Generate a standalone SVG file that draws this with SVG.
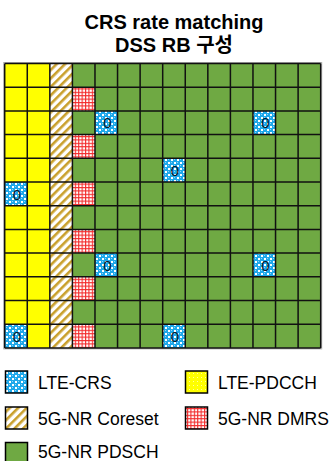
<svg xmlns="http://www.w3.org/2000/svg" width="331" height="461" viewBox="0 0 331 461">
<defs>
<style>
.title{font-family:"Liberation Sans","Noto Sans CJK KR",sans-serif;font-weight:bold;font-size:20px;fill:#000;text-anchor:middle}
.lg{font-family:"Liberation Sans","Noto Sans CJK KR",sans-serif;font-size:17.5px;fill:#000}
.zero{font-family:"Liberation Sans",sans-serif;font-size:15px;fill:#06182c;text-anchor:middle}
.yel{fill:#ffff00}
.grn{fill:#6fa943}
.crs{fill:url(#pCrs)}
.dmrs{fill:url(#pDmrs)}
.core{fill:url(#pCore)}
.sw{stroke:#000;stroke-width:1.5}
</style>
<pattern id="pCrs" width="6" height="6" patternUnits="userSpaceOnUse">
<rect width="6" height="6" fill="#1ea8ea"/>
<rect x="0" y="0" width="2" height="2" fill="#ffffff"/>
<rect x="3" y="3" width="2" height="2" fill="#ffffff"/>
<rect x="3" y="0" width="1" height="1" fill="#8fd6f7"/>
<rect x="0" y="3" width="1" height="1" fill="#8fd6f7"/>
</pattern>
<pattern id="pDmrs" width="3.4" height="3.4" patternUnits="userSpaceOnUse">
<rect width="3.4" height="3.4" fill="#ffffff"/>
<rect x="0" y="0" width="3.4" height="1.1" fill="#f22a2a"/>
<rect x="0" y="0" width="1.1" height="3.4" fill="#f22a2a"/>
</pattern>
<pattern id="pCore" width="6" height="6" patternUnits="userSpaceOnUse" patternTransform="rotate(45)">
<rect width="6" height="6" fill="#ffffff"/>
<rect x="0" y="0" width="2.6" height="6" fill="#c9a02c"/>
</pattern>
<pattern id="pYel" width="4" height="4" patternUnits="userSpaceOnUse">
<rect width="4" height="4" fill="#ffff00"/>
<rect x="1" y="1" width="1" height="1" fill="#ffffa0"/>
</pattern>
</defs>
<rect width="331" height="461" fill="#ffffff"/>
<g id="title">
<text class="title" x="174" y="28.5">CRS rate matching</text>
<text class="title" x="174" y="52">DSS RB 구성</text>
</g>
<g id="grid">
<rect x="3.7" y="62.5" width="318" height="286.4" fill="none" stroke="#b0b0b0" stroke-width="1"/>
<rect class="yel" x="4.7" y="63.5" width="45.14" height="284.4"/>
<rect class="core" x="49.84" y="63.5" width="22.57" height="284.4"/>
<rect class="grn" x="72.41" y="63.5" width="248.27" height="284.4"/>
<g id="crs-cells">
<rect class="crs" x="4.7" y="182" width="22.57" height="23.7"/>
<rect class="crs" x="4.7" y="324.2" width="22.57" height="23.7"/>
<rect class="crs" x="94.98" y="110.9" width="22.57" height="23.7"/>
<rect class="crs" x="94.98" y="253.1" width="22.57" height="23.7"/>
<rect class="crs" x="162.69" y="158.3" width="22.57" height="23.7"/>
<rect class="crs" x="162.69" y="324.2" width="22.57" height="23.7"/>
<rect class="crs" x="252.97" y="110.9" width="22.57" height="23.7"/>
<rect class="crs" x="252.97" y="253.1" width="22.57" height="23.7"/>
<text class="zero" x="17" y="199.5">0</text>
<text class="zero" x="17" y="341.7">0</text>
<text class="zero" x="107.3" y="128.4">0</text>
<text class="zero" x="107.3" y="270.6">0</text>
<text class="zero" x="175" y="175.8">0</text>
<text class="zero" x="175" y="341.7">0</text>
<text class="zero" x="265.3" y="128.4">0</text>
<text class="zero" x="265.3" y="270.6">0</text>
</g>
<g id="dmrs-cells">
<rect class="dmrs" x="72.41" y="87.2" width="22.57" height="23.7"/>
<rect class="dmrs" x="72.41" y="134.6" width="22.57" height="23.7"/>
<rect class="dmrs" x="72.41" y="182" width="22.57" height="23.7"/>
<rect class="dmrs" x="72.41" y="229.4" width="22.57" height="23.7"/>
<rect class="dmrs" x="72.41" y="276.8" width="22.57" height="23.7"/>
<rect class="dmrs" x="72.41" y="324.2" width="22.57" height="23.7"/>
</g>
<path id="grid-lines" fill="none" stroke="#111" stroke-width="1.5" d="M4.7 63.5V347.9M27.27 63.5V347.9M49.84 63.5V347.9M72.41 63.5V347.9M94.98 63.5V347.9M117.55 63.5V347.9M140.12 63.5V347.9M162.69 63.5V347.9M185.26 63.5V347.9M207.83 63.5V347.9M230.4 63.5V347.9M252.97 63.5V347.9M275.54 63.5V347.9M298.11 63.5V347.9M320.68 63.5V347.9M4.7 63.5H320.68M4.7 87.2H320.68M4.7 110.9H320.68M4.7 134.6H320.68M4.7 158.3H320.68M4.7 182H320.68M4.7 205.7H320.68M4.7 229.4H320.68M4.7 253.1H320.68M4.7 276.8H320.68M4.7 300.5H320.68M4.7 324.2H320.68M4.7 347.9H320.68"/>
</g>
<g id="legend">
<g id="lg-crs"><rect class="crs sw" x="5.5" y="371" width="22" height="22"/><text class="lg" x="38" y="388.5">LTE-CRS</text></g>
<g id="lg-pdcch"><rect class="sw" fill="url(#pYel)" x="185.5" y="371" width="22" height="22"/><text class="lg" x="218" y="388.5">LTE-PDCCH</text></g>
<g id="lg-core"><rect class="core sw" x="5.5" y="407" width="22" height="22"/><text class="lg" x="38" y="424.5">5G-NR Coreset</text></g>
<g id="lg-dmrs"><rect class="dmrs sw" x="185.5" y="407" width="22" height="22"/><text class="lg" x="218" y="424.5">5G-NR DMRS</text></g>
<g id="lg-pdsch"><rect class="grn sw" x="5.5" y="442.5" width="22" height="22"/><text class="lg" x="38" y="457.5">5G-NR PDSCH</text></g>
</g>
</svg>
